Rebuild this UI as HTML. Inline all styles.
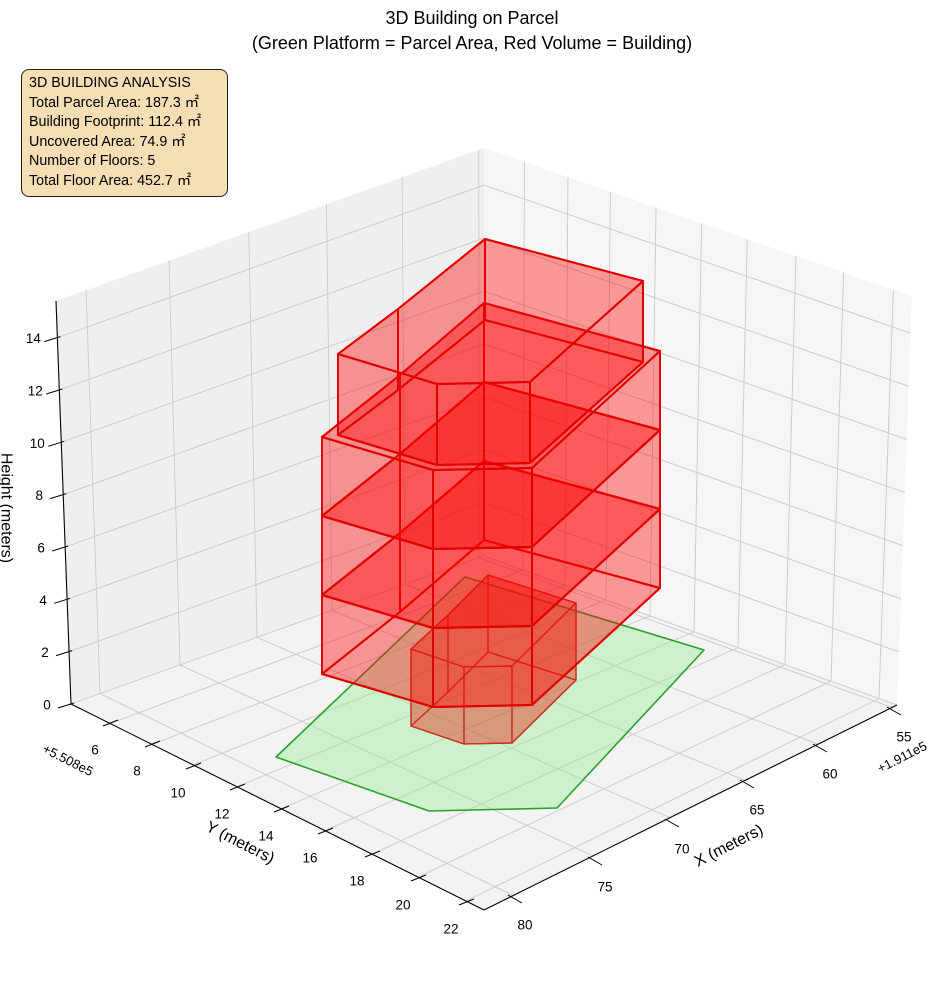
<!DOCTYPE html>
<html><head><meta charset="utf-8">
<style>
html,body{margin:0;padding:0;background:#fff;}
body{width:944px;height:992px;position:relative;overflow:hidden;font-family:"Liberation Sans","DejaVu Sans",sans-serif;}
svg{position:absolute;left:0;top:0;}
.box{position:absolute;left:21px;top:69px;width:207px;height:128px;background:#f5deb3;border:1px solid #222;border-radius:8px;box-sizing:border-box;padding:4px 0 0 7px;font-size:14.3px;line-height:19.6px;color:#000;white-space:nowrap;}
</style></head><body>
<svg id="s" width="944" height="992" xmlns="http://www.w3.org/2000/svg" font-family="Liberation Sans, DejaVu Sans, sans-serif"></svg>
<div class="box">3D BUILDING ANALYSIS<br>Total Parcel Area: 187.3 ㎡<br>Building Footprint: 112.4 ㎡<br>Uncovered Area: 74.9 ㎡<br>Number of Floors: 5<br>Total Floor Area: 452.7 ㎡</div>
<script>
const S=document.getElementById('s');let h='';
const P=a=>a.map(p=>p[0].toFixed(1)+','+p[1].toFixed(1)).join(' ');
function poly(a,f,st,w){h+=`<polygon points="${P(a)}" fill="${f}" stroke="${st||'none'}" stroke-width="${w||0}" stroke-linejoin="round"/>`;}
function line(a,b,c,w){h+=`<line x1="${a[0]}" y1="${a[1]}" x2="${b[0]}" y2="${b[1]}" stroke="${c}" stroke-width="${w}"/>`;}
function text(x,y,t,sz,rot,anchor){h+=`<text x="${x}" y="${y}" font-size="${sz}" text-anchor="${anchor||'middle'}" dominant-baseline="central"${rot?` transform="rotate(${rot} ${x} ${y})"`:''}>${t}</text>`;}
const L=(a,b,t)=>[a[0]+(b[0]-a[0])*t,a[1]+(b[1]-a[1])*t];
const Lc=[71,704],F=[484,910],R=[897,705],B=[484,556],TL=[56,301],TB=[484,148],TR=[912,296];
poly([TL,TB,B,Lc],'#efefef');poly([TB,TR,R,B],'#f6f6f6');poly([Lc,B,R,F],'#f3f3f3');
const g='#c9c9c9',gw=0.9;
const yt={6:[110,723],8:[152,744],10:[193,766],12:[237,787],14:[281,809],16:[325,831],18:[372,854],20:[418,878],22:[466,902]};
const xt={80:[513,898],75:[593,860],70:[670,822],65:[745,783],60:[818,747],55:[892,710]};
for(const k in yt){const f=(yt[k][0]-71)/(484-71);line(L(Lc,F,f),L(B,R,f),g,gw);line(L(B,R,f),L(TB,TR,f),g,gw);}
for(const k in xt){const f=(xt[k][0]-484)/(897-484);line(L(F,R,f),L(Lc,B,f),g,gw);line(L(Lc,B,f),L(TL,TB,f),g,gw);}
for(let z=0;z<=14;z+=2){const t=z/15.4;const a=L(Lc,TL,t),b=L(B,TB,t),c=L(R,TR,t);line(a,b,g,gw);line(b,c,g,gw);}
line(TL,Lc,'#000',1.1);line(Lc,F,'#000',1.1);line(F,R,'#000',1.1);
for(let z=0;z<=14;z+=2){const p=L(Lc,TL,z/15.4);line([p[0]-13,p[1]+4],[p[0]+3,p[1]-1],'#000',1);text(p[0]-24,p[1]+1,z,13.5,0,'middle');}
for(const k in yt){const p=yt[k];line([p[0]-7,p[1]+3],[p[0]+8,p[1]-3],'#000',1);text(p[0]-15,p[1]+27,k,13.5);}
for(const k in xt){const p=xt[k];line([p[0]-5,p[1]-3],[p[0]+9,p[1]+5],'#000',1);text(p[0]+12,p[1]+27,k,13.5);}
poly([[465,577],[704,650],[557,808],[429,811],[276,757]],'rgba(144,238,144,0.38)','#2ca02c',1.6);
function prism(T,d,fill,st,w){const Bt=T.map(p=>[p[0],p[1]+d]);poly(Bt,fill,st,w);
 for(let i=0;i<T.length;i++){const j=(i+1)%T.length;poly([T[i],T[j],Bt[j],Bt[i]],fill,st,w);}poly(T,fill,st,w);}
const S6=[[488,575],[576,603],[512,666],[464,667],[411,649],[448,615]];
prism(S6,77,'rgba(230,40,20,0.25)','#c8321e',1.3);
const Q=[[484,303],[660,351],[532,468],[433,470],[322,437],[400,375]];
for(let k=2;k>=0;k--){prism(Q.map(p=>[p[0],p[1]+79*k]),79,'rgba(255,0,0,0.22)','#e00000',2);}
const T=[[485,239],[643,281],[530,382],[437,384],[338,354],[398,309]];
prism(T,81,'rgba(255,0,0,0.22)','#e00000',2);
text(472,18,'3D Building on Parcel',18);
text(472,43,'(Green Platform = Parcel Area, Red Volume = Building)',18);
text(729,846,'X (meters)',16,-27);
text(240,843,'Y (meters)',16,27);
text(6,508,'Height (meters)',16,90);
text(68,760,'+5.508e5',13,27);
text(902,757,'+1.911e5',13,-27);
S.innerHTML=h;
</script>
</body></html>
